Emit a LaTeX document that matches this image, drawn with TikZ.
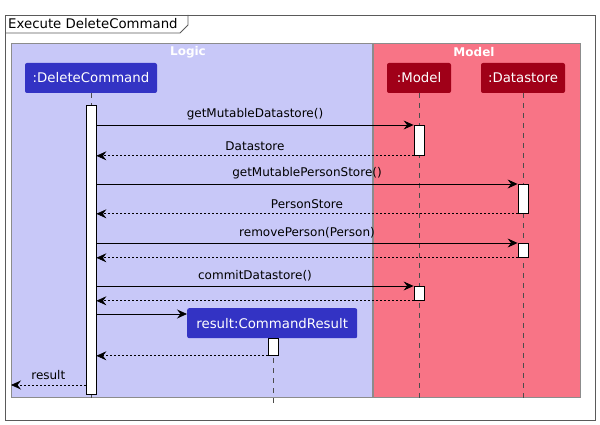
\documentclass[tikz,border=0pt]{standalone}
\usepackage{fontspec}
\setmainfont{DejaVu Sans}
\usetikzlibrary{arrows.meta}
\definecolor{logicbg}{RGB}{200,200,248}
\definecolor{modelbg}{RGB}{248,116,134}
\definecolor{logicpart}{RGB}{51,51,196}
\definecolor{modelpart}{RGB}{160,0,24}
\definecolor{framegray}{RGB}{90,90,90}
\begin{document}
\begin{tikzpicture}[x=1pt,y=-1pt]
        \tikzstyle{every node}=[inner sep=0pt, font=\fontsize{12}{14}\selectfont];
        \tikzstyle{part}=[rectangle, rounded corners=2pt, minimum height=30pt, text=white, font=\fontsize{13.3}{15}\selectfont];
        \tikzstyle{act}=[rectangle, draw=black, fill=white, minimum width=10pt, line width=0.8pt];
        \tikzstyle{life}=[draw=black!70, dash pattern=on 5pt off 5pt, line width=0.6pt];
        \tikzstyle{call}=[-{Stealth[length=10pt,width=9pt,inset=3.5pt]}, line width=0.8pt];
        \tikzstyle{ret}=[-{Stealth[length=10pt,width=9pt,inset=3.5pt]}, dash pattern=on 2pt off 2pt, line width=0.7pt];
        \tikzstyle{box}=[rectangle, draw=black!45, line width=0.8pt, anchor=north west];
        \useasboundingbox (0,0) rectangle (600,425);
        % frame
        \draw[framegray, line width=0.9pt] (5,15) rectangle (595,420);
        \draw[framegray, line width=0.9pt] (5,33) -- (180,33) -- (188,25) -- (188,15);
        \node[anchor=west, font=\fontsize{13.3}{15}\selectfont] (title) at (8,24) {Execute DeleteCommand};
        % boxes
        \node[box, fill=logicbg, minimum width=361pt, minimum height=354pt] (logic) at (11,43) {};
        \node[box, fill=modelbg, minimum width=207pt, minimum height=354pt] (model) at (373,43) {};
        \node[text=white, font=\bfseries\fontsize{12}{14}\selectfont] at (188,52) {Logic};
        \node[text=white, font=\bfseries\fontsize{12}{14}\selectfont] at (474,52) {Model};
        % participants
        \node[part, fill=logicpart, minimum width=132pt] (dc) at (91,78) {:DeleteCommand};
        \node[part, fill=modelpart, minimum width=64pt] (m) at (419,78) {:Model};
        \node[part, fill=modelpart, minimum width=84pt] (ds) at (523,78) {:Datastore};
        \coordinate (dcend) at (91,399);
        \coordinate (mend) at (419,399);
        \coordinate (dsend) at (523,399);
        \coordinate (resend) at (273,403);
        \draw[life] (dc.south) -- (dcend);
        \draw[life] (m.south) -- (mend);
        \draw[life] (ds.south) -- (dsend);
        % activations
        \node[act, anchor=north, minimum height=289pt] (adc) at (91,105) {};
        \node[act, anchor=north, minimum height=30pt] (am1) at (419,125) {};
        \node[act, anchor=north, minimum height=29pt] (ad1) at (523,184) {};
        \node[act, anchor=north, minimum height=14pt] (ad2) at (523,243) {};
        \node[act, anchor=north, minimum height=14pt] (am2) at (419,286) {};
        % messages
        \draw[call] (adc.east |- am1.north west) -- node[midway, above=4.5pt] {getMutableDatastore()} (am1.north west);
        \draw[ret] (am1.south west) -- node[midway, above=4.5pt] {Datastore} (adc.east |- am1.south west);
        \draw[call] (adc.east |- ad1.north west) -- node[midway, above=4.5pt] {getMutablePersonStore()} (ad1.north west);
        \draw[ret] (ad1.south west) -- node[midway, above=4.5pt] {PersonStore} (adc.east |- ad1.south west);
        \draw[call] (adc.east |- ad2.north west) -- node[midway, above=4.5pt] {removePerson(Person)} (ad2.north west);
        \draw[ret] (ad2.south west) -- (adc.east |- ad2.south west);
        \draw[call] (adc.east |- am2.north west) -- node[midway, above=4.5pt] {commitDatastore()} (am2.north west);
        \draw[ret] (am2.south west) -- (adc.east |- am2.south west);
        % result
        \node[part, fill=logicpart, minimum width=170pt, anchor=north west] (res) at (187,308) {result:CommandResult};
        \draw[life] (res.south -| resend) -- (resend);
        \node[act, anchor=north, minimum height=17pt] (ar) at (273,338) {};
        \coordinate (mk) at (187,314);
        \draw[call] (adc.east |- mk) -- (mk);
        \draw[ret] (ar.south west) -- (adc.east |- ar.south west);
        \coordinate (rt) at (96,385);
        \draw[ret] (adc.west |- rt) -- node[midway, above=4.5pt] {result} (logic.west |- rt);
\end{tikzpicture}
\end{document}
